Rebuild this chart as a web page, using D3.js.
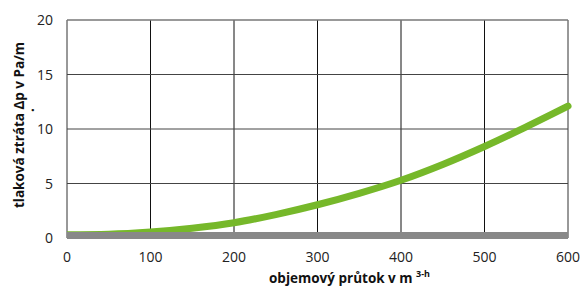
<!DOCTYPE html>
<html>
<head>
<meta charset="utf-8">
<script src="https://d3js.org/d3.v7.min.js"></script>
<style>
  body { margin: 0; background: #fff; }
  .tick-label { font-family: "Open Sans", sans-serif; font-size: 14px; fill: #222; }
  .axis-title { font-family: "Open Sans", sans-serif; font-size: 13.5px; font-weight: bold; fill: #111; }
</style>
</head>
<body>
<div id="chart"></div>
<script>
// flow rate (m3/h) and pressure loss (Pa/m)
let flowValues = [0, 50, 100, 150, 200, 250, 300, 350, 400, 450, 500, 550, 600];
let lossValues = [0.3, 0.35, 0.55, 0.9, 1.4, 2.15, 3.05, 4.1, 5.3, 6.75, 8.4, 10.2, 12.1];
let xTicks = [0, 100, 200, 300, 400, 500, 600];
let yTicks = [0, 5, 10, 15, 20];

let width = 581;
let height = 287;
let plotLeft = 67;
let plotRight = 568;
let plotTop = 20;
let plotBottom = 238;

let xScale = d3.scaleLinear().domain([0, 600]).range([plotLeft, plotRight]);
let yScale = d3.scaleLinear().domain([0, 20]).range([plotBottom, plotTop]);

let svg = d3.select("#chart")
    .append("svg")
    .attr("width", width)
    .attr("height", height);

// clip so the curve starts flat at the left border
svg.append("clipPath")
    .attr("id", "plot-clip")
    .append("rect")
    .attr("x", plotLeft)
    .attr("y", 0)
    .attr("width", width - plotLeft)
    .attr("height", height);

// vertical grid lines
svg.selectAll(".vgrid")
    .data(xTicks)
    .enter()
    .append("line")
    .attr("x1", function (d) { return xScale(d); })
    .attr("x2", function (d) { return xScale(d); })
    .attr("y1", plotTop)
    .attr("y2", plotBottom)
    .style("stroke", function (d) { return (d === 0 || d === 600) ? "#333" : "#111"; })
    .style("stroke-width", 1);

// horizontal grid lines
svg.selectAll(".hgrid")
    .data(yTicks.filter(function (d) { return d > 0; }))
    .enter()
    .append("line")
    .attr("x1", plotLeft)
    .attr("x2", plotRight)
    .attr("y1", function (d) { return yScale(d); })
    .attr("y2", function (d) { return yScale(d); })
    .style("stroke", function (d) { return d === 20 ? "#777" : "#444"; })
    .style("stroke-width", function (d) { return d === 20 ? 1.5 : 1; });

// green curve
let data = flowValues.map(function (f, i) { return { flow: f, loss: lossValues[i] }; });
let line = d3.line()
    .x(function (d) { return xScale(d.flow); })
    .y(function (d) { return yScale(d.loss); })
    .curve(d3.curveMonotoneX);

svg.append("path")
    .datum(data)
    .attr("d", line)
    .attr("clip-path", "url(#plot-clip)")
    .style("fill", "none")
    .style("stroke", "#76b82a")
    .style("stroke-width", 7)
    .style("stroke-linecap", "round");

// grey baseline bar
svg.append("line")
    .attr("x1", xScale(0))
    .attr("x2", xScale(600))
    .attr("y1", yScale(0) - 2.5)
    .attr("y2", yScale(0) - 2.5)
    .style("stroke", "#888")
    .style("stroke-width", 7);

// x tick labels
svg.selectAll(".xlabel")
    .data(xTicks)
    .enter()
    .append("text")
    .attr("class", "tick-label")
    .attr("x", function (d) { return xScale(d); })
    .attr("y", 262)
    .attr("text-anchor", "middle")
    .text(function (d) { return d; });

// y tick labels
svg.selectAll(".ylabel")
    .data(yTicks)
    .enter()
    .append("text")
    .attr("class", "tick-label")
    .attr("x", 53)
    .attr("y", function (d) { return yScale(d) + 5; })
    .attr("text-anchor", "end")
    .text(function (d) { return d; });

// x axis title
let xTitle = svg.append("text")
    .attr("class", "axis-title")
    .attr("x", 269)
    .attr("y", 283);
xTitle.append("tspan").text("objemový průtok v m ");
xTitle.append("tspan")
    .attr("dy", -6)
    .style("font-size", "9px")
    .text("3-h");

// y axis title
svg.append("text")
    .attr("class", "axis-title")
    .attr("transform", "translate(24,125) rotate(-90)")
    .attr("text-anchor", "middle")
    .text("tlaková ztráta Δp v Pa/m");

svg.append("text")
    .attr("class", "axis-title")
    .attr("transform", "translate(34,110) rotate(-90)")
    .attr("text-anchor", "middle")
    .text(".");
</script>
</body>
</html>
